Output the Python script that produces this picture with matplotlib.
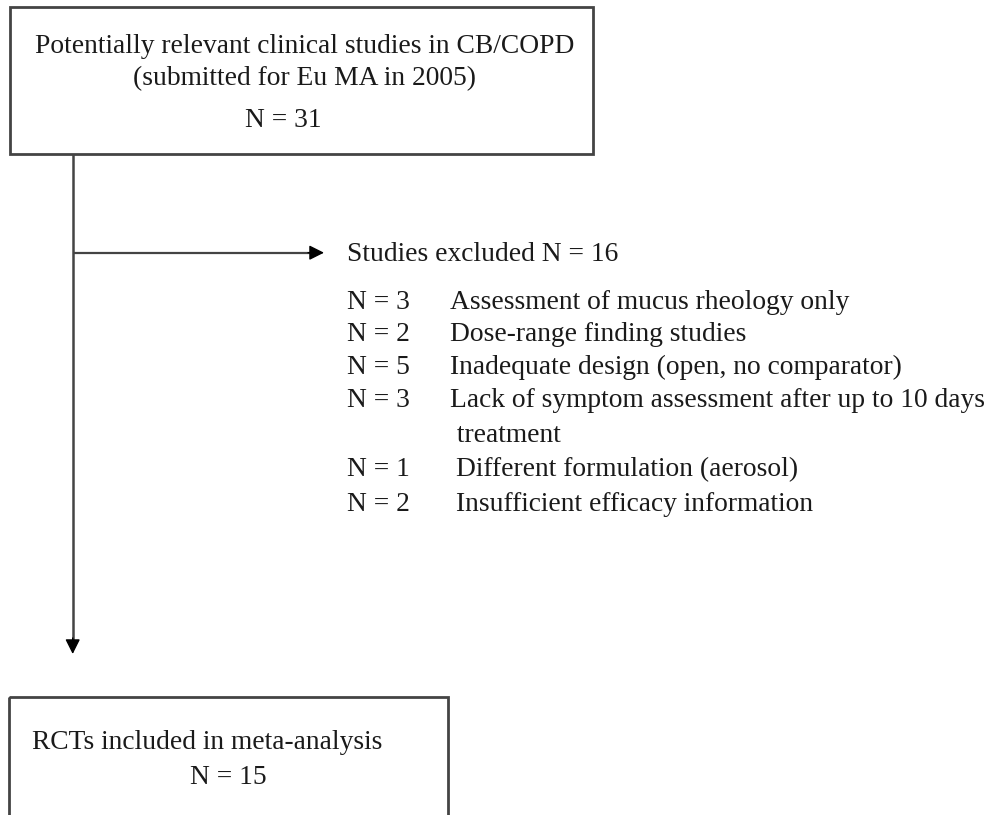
import matplotlib
matplotlib.use("Agg")
import matplotlib.pyplot as plt
from matplotlib.patches import Rectangle

# ---- data ----
total_label = ["Potentially relevant clinical studies in CB/COPD",
               "(submitted for Eu MA in 2005)"]
total_n = 31
excluded_n = 16
excluded_counts = [3, 2, 5, 3, 1, 2]
excluded_reasons = ["Assessment of mucus rheology only",
                    "Dose-range finding studies",
                    "Inadequate design (open, no comparator)",
                    "Lack of symptom assessment after up to 10 days\n treatment",
                    "Different formulation (aerosol)",
                    "Insufficient efficacy information"]
included_label = "RCTs included in meta-analysis"
included_n = 15

W, H = 994, 815
fig = plt.figure(figsize=(W / 100, H / 100), dpi=100)
ax = fig.add_axes([0, 0, 1, 1])
ax.set_xlim(0, W)
ax.set_ylim(H, 0)
ax.axis("off")

FONT = "Liberation Serif"
FS = 19.85
TC = "#1a1a1a"
LC = "#444444"
DY = 2.5

def txt(x, y, s, **kw):
    ax.text(x, y + DY, s, fontfamily=FONT, fontsize=FS, color=TC,
            ha="left", va="center", **kw)

# top box
ax.add_patch(Rectangle((9.5, 7), 583.5, 147, fill=False, ec=LC, lw=2))
txt(35, 44, total_label[0])
txt(133, 76, total_label[1])
txt(245, 118, f"N = {total_n}")

# vertical arrow
ax.plot([72.7, 72.7], [154, 640], color=LC, lw=1.8, solid_capstyle="butt")
ax.annotate("", xy=(72.7, 654), xytext=(72.7, 638),
            arrowprops=dict(arrowstyle="-|>,head_length=0.9,head_width=0.45",
                            color="black", lw=1.0, shrinkA=0, shrinkB=0))

# horizontal arrow
ax.plot([72.7, 312], [252.7, 252.7], color=LC, lw=1.6, solid_capstyle="butt")
ax.annotate("", xy=(324, 252.7), xytext=(308, 252.7),
            arrowprops=dict(arrowstyle="-|>,head_length=0.9,head_width=0.45",
                            color="black", lw=1.0, shrinkA=0, shrinkB=0))

txt(347, 252, f"Studies excluded N = {excluded_n}")

row_y = [300, 332, 365, 398, 467, 502]
desc_x = [450, 450, 450, 450, 456, 456]
for n, reason, y, dx in zip(excluded_counts, excluded_reasons, row_y, desc_x):
    txt(347, y, f"N = {n}")
    lines = reason.split("\n")
    txt(dx, y, lines[0])
    if len(lines) > 1:
        txt(dx, y + 35, lines[1])

# bottom box
ax.add_patch(Rectangle((9, 697), 439, 140, fill=False, ec=LC, lw=2, clip_on=True))
txt(32, 740, included_label)
txt(190, 775, f"N = {included_n}")

fig.savefig("out.png", dpi=100)
